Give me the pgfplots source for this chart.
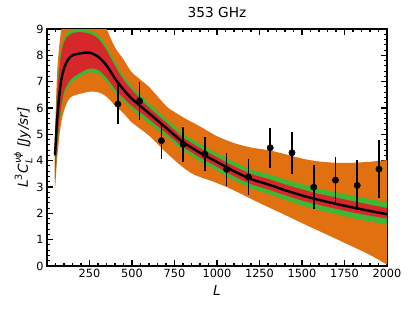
\documentclass[border=0pt]{standalone}
\usepackage{fontspec}
\setmainfont{DejaVu Sans}
\usepackage{amsmath}
\usepackage{pgfplots}
\usepackage{pgfplotstable}
\pgfplotsset{compat=1.18}
\usepgfplotslibrary{fillbetween}
\definecolor{bandorange}{RGB}{224,112,16}
\definecolor{bandgreen}{RGB}{62,184,52}
\definecolor{bandred}{RGB}{214,40,42}

\pgfplotstableread{
L     ol    gl    rl    c     ru    gu    ou
47    2.85  3.15  3.30  4.20  4.55  4.65  4.95
60    4.10  4.45  4.60  5.60  6.60  6.80  7.40
80    5.30  5.75  5.90  6.90  7.90  8.10  8.80
100   5.90  6.45  6.60  7.50  8.50  8.65  9.50
125   6.30  6.80  6.95  7.85  8.75  8.88  9.90
150   6.45  7.00  7.15  8.00  8.85  8.95  10.2
200   6.55  7.20  7.35  8.08  8.88  8.98  10.4
250   6.62  7.35  7.50  8.10  8.82  8.94  10.3
300   6.60  7.30  7.45  7.95  8.65  8.78  9.60
350   6.43  7.00  7.15  7.62  8.20  8.35  9.00
400   6.10  6.58  6.72  7.12  7.60  7.75  8.30
450   5.80  6.25  6.38  6.70  7.08  7.22  7.85
500   5.45  5.95  6.08  6.35  6.68  6.82  7.35
600   4.95  5.42  5.58  5.80  6.02  6.18  6.80
700   4.32  4.92  5.05  5.25  5.45  5.60  6.08
750   4.02  4.65  4.78  4.97  5.16  5.31  5.85
800   3.75  4.40  4.52  4.70  4.88  5.03  5.65
850   3.52  4.18  4.32  4.50  4.68  4.83  5.47
900   3.38  3.97  4.12  4.30  4.48  4.63  5.30
1000  3.15  3.62  3.77  3.95  4.13  4.28  4.93
1100  2.87  3.26  3.41  3.60  3.79  3.95  4.67
1200  2.55  2.95  3.11  3.30  3.50  3.67  4.50
1300  2.24  2.74  2.91  3.10  3.31  3.49  4.40
1400  1.94  2.51  2.69  2.88  3.10  3.29  4.25
1500  1.63  2.30  2.49  2.68  2.91  3.11  4.08
1600  1.33  2.12  2.32  2.51  2.74  2.94  3.97
1700  1.03  1.97  2.17  2.36  2.60  2.80  3.92
1800  0.73  1.82  2.03  2.22  2.46  2.67  3.92
1900  0.42  1.69  1.91  2.09  2.33  2.54  3.96
2000  0.05  1.57  1.80  1.97  2.20  2.42  4.02
}\bands

\pgfplotstableread{
L     y     e
417   6.15  0.75
545   6.27  0.72
673   4.76  0.68
801   4.62  0.66
929   4.25  0.63
1057  3.67  0.63
1185  3.38  0.67
1313  4.49  0.75
1441  4.30  0.80
1569  2.99  0.83
1697  3.26  0.87
1825  3.06  0.95
1953  3.68  1.10
}\points

\begin{document}
\begin{tikzpicture}
\begin{axis}[
  scale only axis,
  width=340bp, height=237bp,
  xmin=0, xmax=2000, ymin=0, ymax=9,
  xtick={250,500,...,2000},
  minor xtick={50,100,...,1950},
  ytick={0,1,...,9},
  minor ytick={0.2,0.4,...,8.9},
  tick align=inside,
  major tick length=6bp, minor tick length=3bp,
  every tick/.style={black, line width=1.1bp},
  axis line style={line width=1.3bp},
  /pgf/number format/assume math mode=true,
  /pgf/number format/set thousands separator={},
  tick label style={font=\fontsize{11.3bp}{13bp}\selectfont},
  title={353 GHz},
  title style={font=\fontsize{13.7bp}{16bp}\selectfont, at={(axis description cs:0.5,1)}, anchor=base, yshift=6bp},
  xlabel={\textit{L}},
  xlabel style={font=\fontsize{13.7bp}{16bp}\selectfont, at={(axis description cs:0.5,0)}, anchor=base, yshift=-29bp},
  ylabel={$\textit{L}^{\text{3}}\textit{C}_{\textit{L}}^{\textit{νϕ}}$ \textit{[Jy/sr]}},
  ylabel style={font=\fontsize{13.7bp}{16bp}\selectfont, at={(axis description cs:-0.0559,0.5)}, anchor=base},
]
\addplot[name path=ou, draw=none, smooth, forget plot] table[x=L, y=ou] {\bands};
\addplot[name path=ol, draw=none, smooth, forget plot] table[x=L, y=ol] {\bands};
\addplot[name path=gu, draw=none, smooth, forget plot] table[x=L, y=gu] {\bands};
\addplot[name path=gl, draw=none, smooth, forget plot] table[x=L, y=gl] {\bands};
\addplot[name path=ru, draw=none, smooth, forget plot] table[x=L, y=ru] {\bands};
\addplot[name path=rl, draw=none, smooth, forget plot] table[x=L, y=rl] {\bands};
\addplot[bandorange, draw=none] fill between[of=ou and ol];
\addplot[bandgreen, draw=none] fill between[of=gu and gl];
\addplot[bandred, draw=none] fill between[of=ru and rl];
\addplot[black, line width=2.4bp, smooth] table[x=L, y=c] {\bands};
\addplot[black, only marks, mark=*, mark size=3.2bp,
  error bars/.cd, y dir=both, y explicit,
  error mark=none, error bar style={line width=1.6bp, black}]
  table[x=L, y=y, y error=e] {\points};
\end{axis}
\pgfresetboundingbox
\useasboundingbox (-47bp,-45bp) rectangle (368bp,266bp);
\end{tikzpicture}
\end{document}
